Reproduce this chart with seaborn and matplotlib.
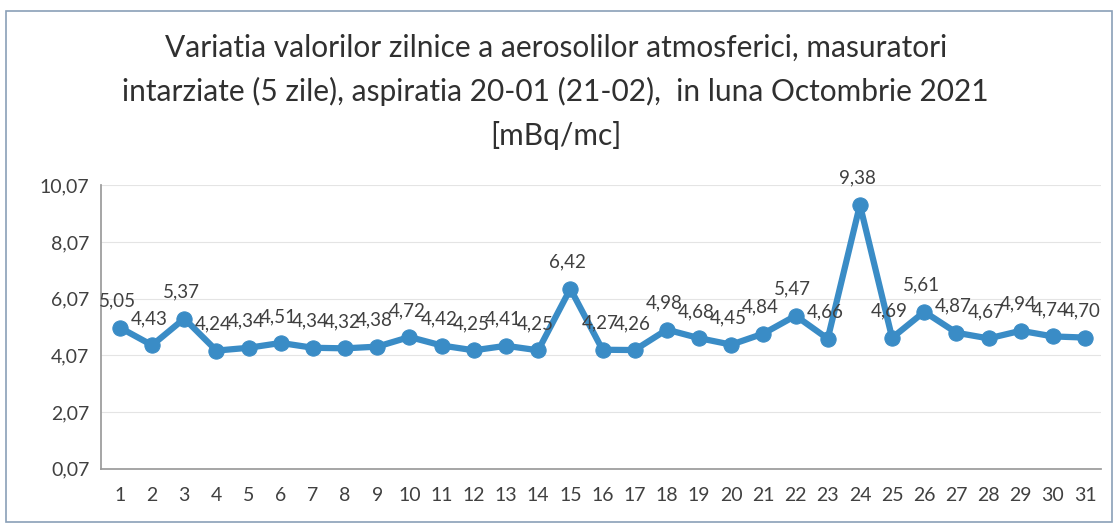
import numpy as np
import pandas as pd
import matplotlib
matplotlib.use("Agg")
import matplotlib.pyplot as plt
import seaborn as sns
from matplotlib.patches import Rectangle

# data (October 2021, daily values)
zile = list(range(1, 32))
valori = [5.05, 4.43, 5.37, 4.24, 4.34, 4.51, 4.34, 4.32, 4.38, 4.72,
          4.42, 4.25, 4.41, 4.25, 6.42, 4.27, 4.26, 4.98, 4.68, 4.45,
          4.84, 5.47, 4.66, 9.38, 4.69, 5.61, 4.87, 4.67, 4.94, 4.74, 4.70]
y_ticks = [0.07, 2.07, 4.07, 6.07, 8.07, 10.07]

titlu = ("Variatia valorilor zilnice a aerosolilor atmosferici, masuratori\n"
         "intarziate (5 zile), aspiratia 20-01 (21-02),  in luna Octombrie 2021\n"
         "[mBq/mc]")

df = pd.DataFrame({"zi": zile, "valoare": valori})

sns.set_theme(style="white")
plt.rcParams["font.family"] = ["Lato", "DejaVu Sans"]

fig = plt.figure(figsize=(11.18, 5.25), dpi=100)
ax = fig.add_axes([0.09, 0.107, 0.895, 0.54])

culoare = "#3a8cc6"
sns.lineplot(data=df, x="zi", y="valoare", ax=ax, color=culoare, linewidth=4.5,
             marker="o", markersize=11, markeredgecolor=culoare, markerfacecolor=culoare)

for zi, v in zip(zile, valori):
    ax.annotate(f"{v:.2f}".replace(".", ","), (zi, v), xytext=(-2, 13),
                textcoords="offset points", ha="center", va="bottom",
                fontsize=13.5, color="#404040")

ax.set_ylim(0.07, 10.07)
ax.set_xlim(0.4, 31.5)
ax.set_yticks(y_ticks)
ax.set_yticklabels([f"{t:.2f}".replace(".", ",") for t in y_ticks])
ax.set_xticks(zile)
ax.set_xticklabels([str(z) for z in zile])
ax.tick_params(axis="both", labelsize=14, colors="#404040", length=0, pad=8)
ax.tick_params(axis="x", pad=13)
ax.set_xlabel("")
ax.set_ylabel("")
ax.grid(axis="y", color="#e4e4e4", linewidth=0.8)

for s in ["top", "right"]:
    ax.spines[s].set_visible(False)
ax.spines["left"].set_color("#9a9a9a")
ax.spines["bottom"].set_color("#9a9a9a")

fig.text(0.497, 0.935, titlu, ha="center", va="top", fontsize=21.5,
         color="#303030", linespacing=1.62)

fig.patches.append(Rectangle((0.005, 0.005), 0.99, 0.975, transform=fig.transFigure,
                             fill=False, edgecolor="#8aa0b8", linewidth=1.2))

fig.savefig("out.png", dpi=100)
